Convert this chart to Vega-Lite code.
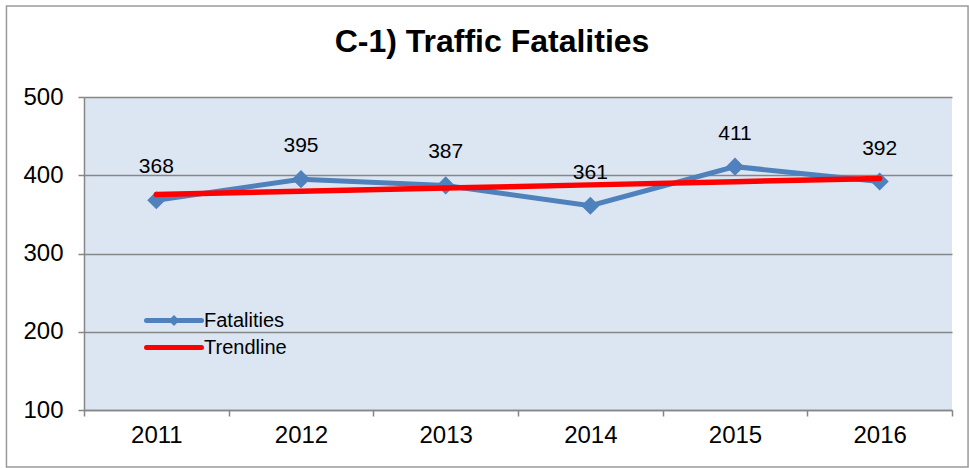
{
  "$schema": "https://vega.github.io/schema/vega-lite/v6.json",
  "width": 868,
  "height": 313,
  "autosize": {"type": "none"},
  "padding": {"left": 84, "top": 97, "right": 17, "bottom": 58},
  "background": "white",
  "title": {
    "text": "C-1) Traffic Fatalities",
    "fontSize": 32,
    "font": "Liberation Sans",
    "fontWeight": "bold",
    "color": "black",
    "anchor": "middle",
    "frame": "group",
    "dx": -26,
    "baseline": "alphabetic",
    "offset": -79
  },
  "config": {
    "view": {"fill": "#DCE6F2", "stroke": null},
    "font": "Liberation Sans"
  },
  "data": {
    "values": [
      {"year": 2011, "series": "Fatalities", "value": 368},
      {"year": 2012, "series": "Fatalities", "value": 395},
      {"year": 2013, "series": "Fatalities", "value": 387},
      {"year": 2014, "series": "Fatalities", "value": 361},
      {"year": 2015, "series": "Fatalities", "value": 411},
      {"year": 2016, "series": "Fatalities", "value": 392},
      {"year": 2011, "series": "Trendline", "value": 375.5},
      {"year": 2012, "series": "Trendline", "value": 379.6},
      {"year": 2013, "series": "Trendline", "value": 383.6},
      {"year": 2014, "series": "Trendline", "value": 387.7},
      {"year": 2015, "series": "Trendline", "value": 391.8},
      {"year": 2016, "series": "Trendline", "value": 395.8}
    ]
  },
  "layer": [
    {
      "data": {"values": [{}]},
      "mark": {"type": "rect", "fillOpacity": 0, "stroke": "#9a9a9a", "strokeWidth": 1.5},
      "encoding": {
        "x": {"datum": 2009.964, "type": "quantitative", "scale": {"domain": [2010.5, 2016.5], "nice": false, "zero": false}},
        "x2": {"datum": 2016.611},
        "y": {"datum": 616.3, "type": "quantitative", "scale": {"domain": [100, 500], "nice": false, "zero": false}},
        "y2": {"datum": 27.2}
      }
    },
    {
      "transform": [{"filter": "datum.series === 'Fatalities'"}],
      "mark": {"type": "line", "strokeWidth": 5},
      "encoding": {
        "x": {
          "field": "year", "type": "quantitative",
          "scale": {"domain": [2010.5, 2016.5], "nice": false, "zero": false},
          "axis": {
            "title": null,
            "values": [2010.5, 2011, 2011.5, 2012, 2012.5, 2013, 2013.5, 2014, 2014.5, 2015, 2015.5, 2016, 2016.5],
            "labelExpr": "datum.value % 1 === 0 ? format(datum.value, 'd') : ''",
            "tickOpacity": {"condition": {"test": "datum.value % 1 !== 0", "value": 1}, "value": 0},
            "grid": false,
            "domainColor": "#868686",
            "domainWidth": 1.5,
            "tickColor": "#868686",
            "tickWidth": 1.5,
            "tickSize": 6,
            "labelFontSize": 24,
            "labelColor": "black",
            "labelPadding": 7,
            "labelFlush": false,
            "labelOverlap": false
          }
        },
        "y": {
          "field": "value", "type": "quantitative",
          "scale": {"domain": [100, 500], "nice": false, "zero": false},
          "axis": {
            "title": null,
            "values": [100, 200, 300, 400, 500],
            "grid": true,
            "gridColor": "#868686",
            "gridWidth": 1.5,
            "domainColor": "#868686",
            "domainWidth": 1.5,
            "tickColor": "#868686",
            "tickWidth": 1.5,
            "tickSize": 6,
            "labelFontSize": 24,
            "labelColor": "black",
            "labelPadding": 15
          }
        },
        "color": {
          "field": "series", "type": "nominal",
          "scale": {"domain": ["Fatalities", "Trendline"], "range": ["#4F81BD", "#FF0000"]},
          "legend": {
            "title": null,
            "orient": "none",
            "legendX": 60,
            "legendY": 210,
            "symbolSize": 3025,
            "symbolStrokeWidth": 5,
            "labelFontSize": 20,
            "labelColor": "black",
            "labelOffset": 0,
            "clipHeight": 27,
            "padding": 0,
            "rowPadding": 0,
            "encode": {
              "symbols": {
                "update": {
                  "shape": {"signal": "datum.value === 'Fatalities' ? 'M-1,0H1M0,-0.07L0.07,0L0,0.07L-0.07,0Z' : 'M-1,0H1'"},
                  "strokeCap": {"value": "round"}
                }
              }
            }
          }
        }
      }
    },
    {
      "transform": [{"filter": "datum.series === 'Fatalities'"}],
      "mark": {"type": "point", "shape": "diamond", "filled": true, "size": 330, "opacity": 1, "color": "#4F81BD"},
      "encoding": {
        "x": {"field": "year", "type": "quantitative", "scale": {"domain": [2010.5, 2016.5], "nice": false, "zero": false}},
        "y": {"field": "value", "type": "quantitative", "scale": {"domain": [100, 500], "nice": false, "zero": false}}
      }
    },
    {
      "transform": [{"filter": "datum.series === 'Fatalities'"}],
      "mark": {"type": "text", "dy": -33, "fontSize": 21, "color": "black", "baseline": "middle"},
      "encoding": {
        "x": {"field": "year", "type": "quantitative", "scale": {"domain": [2010.5, 2016.5], "nice": false, "zero": false}},
        "y": {"field": "value", "type": "quantitative", "scale": {"domain": [100, 500], "nice": false, "zero": false}},
        "text": {"field": "value", "type": "quantitative", "format": "d"}
      }
    },
    {
      "transform": [{"filter": "datum.series === 'Trendline'"}],
      "mark": {"type": "line", "strokeWidth": 5.5, "strokeCap": "round"},
      "encoding": {
        "x": {"field": "year", "type": "quantitative", "scale": {"domain": [2010.5, 2016.5], "nice": false, "zero": false}},
        "y": {"field": "value", "type": "quantitative", "scale": {"domain": [100, 500], "nice": false, "zero": false}},
        "color": {"field": "series", "type": "nominal", "scale": {"domain": ["Fatalities", "Trendline"], "range": ["#4F81BD", "#FF0000"]}}
      }
    }
  ]
}
